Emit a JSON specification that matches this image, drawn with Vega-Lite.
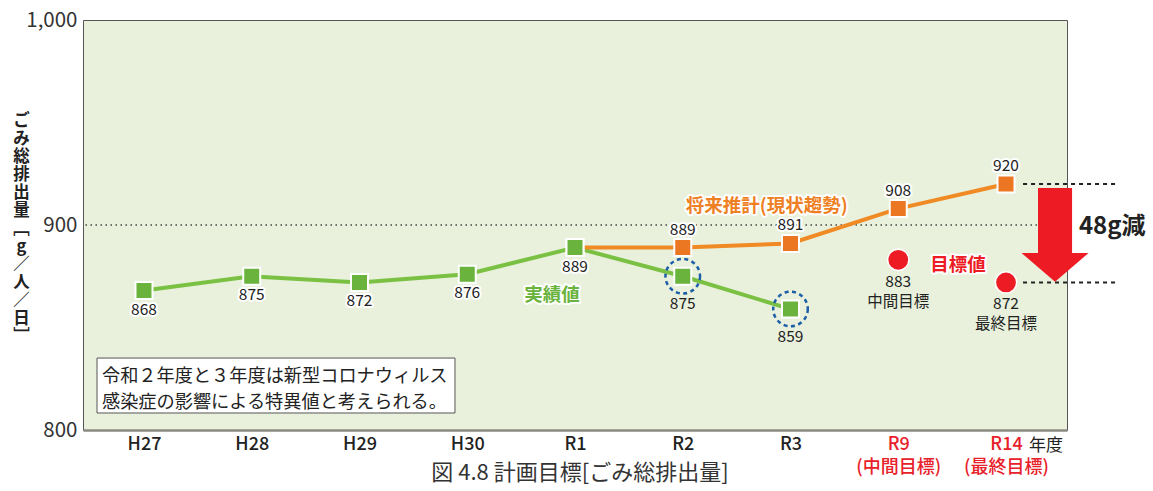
{
  "$schema": "https://vega.github.io/schema/vega-lite/v6.json",
  "width": 984,
  "height": 410,
  "autosize": {"type": "none"},
  "padding": {"left": 83, "top": 20, "right": 86, "bottom": 61},
  "background": "white",
  "config": {
    "view": {"fill": "#e9f1dc", "stroke": "#555555", "strokeWidth": 1},
    "font": "Noto Sans CJK JP",
    "text": {"font": "Noto Sans CJK JP"}
  },
  "datasets": {
    "actual": [
      {"i": 0, "year": "H27", "v": 868},
      {"i": 1, "year": "H28", "v": 875},
      {"i": 2, "year": "H29", "v": 872},
      {"i": 3, "year": "H30", "v": 876},
      {"i": 4, "year": "R1", "v": 889},
      {"i": 5, "year": "R2", "v": 875},
      {"i": 6, "year": "R3", "v": 859}
    ],
    "forecast": [
      {"i": 4, "year": "R1", "v": 889},
      {"i": 5, "year": "R2", "v": 889},
      {"i": 6, "year": "R3", "v": 891},
      {"i": 7, "year": "R9", "v": 908},
      {"i": 8, "year": "R14", "v": 920}
    ],
    "target": [
      {"i": 7, "year": "R9", "v": 883, "name": "中間目標"},
      {"i": 8, "year": "R14", "v": 872, "name": "最終目標"}
    ],
    "dashes": [{"v": 920}, {"v": 872}]
  },
  "layer": [
    {
      "data": {"values": [{}]},
      "mark": {"type": "rule", "color": "#444444", "strokeDash": [1.5, 3.5], "strokeWidth": 1.3},
      "encoding": {"y": {"datum": 900, "type": "quantitative"}}
    },
    {
      "data": {"values": [{}]},
      "mark": {"type": "rect", "fill": "white", "stroke": "#555555", "strokeWidth": 1},
      "encoding": {
        "x": {"datum": -0.436, "type": "quantitative"},
        "x2": {"datum": 2.886},
        "y": {"datum": 835.1, "type": "quantitative"},
        "y2": {"datum": 808.3}
      }
    },
    {
      "data": {"values": [{}]},
      "mark": {"type": "text", "text": ["令和２年度と３年度は新型コロナウィルス", "感染症の影響による特異値と考えられる。"], "align": "left", "baseline": "middle", "fontSize": 18.2, "lineHeight": 26, "color": "#222222"},
      "encoding": {
        "x": {"datum": -0.39, "type": "quantitative"},
        "y": {"datum": 825.9, "type": "quantitative"}
      }
    },
    {
      "data": {"name": "dashes"},
      "mark": {"type": "rule", "color": "#222222", "strokeDash": [4, 4], "strokeWidth": 2},
      "encoding": {
        "x": {"datum": 8.158, "type": "quantitative"},
        "x2": {"datum": 9.04},
        "y": {"field": "v", "type": "quantitative"}
      }
    },
    {
      "data": {"name": "actual"},
      "mark": {"type": "line", "color": "#7ac143", "strokeWidth": 4},
      "encoding": {
        "x": {
          "field": "i", "type": "quantitative",
          "scale": {"domain": [-0.566, 8.566], "nice": false, "zero": false},
          "axis": {
            "title": null,
            "values": [0, 1, 2, 3, 4, 5, 6, 7, 8],
            "labelExpr": "['H27','H28','H29','H30','R1','R2','R3',['R9','(中間目標)'],['R14','(最終目標)']][datum.value]",
            "labelColor": {"condition": {"test": "datum.value >= 7", "value": "#e8202a"}, "value": "#222222"},
            "labelFontSize": 18,
            "labelFont": "Noto Sans CJK JP",
            "labelFontWeight": 500,
            "labelLineHeight": 23,
            "labelPadding": 5,
            "labelBaseline": "top",
            "ticks": false,
            "grid": false,
            "domainColor": "#8a8a80",
            "domainWidth": 2.5,
            "labelOverlap": false
          }
        },
        "y": {
          "field": "v", "type": "quantitative",
          "scale": {"domain": [800, 1000], "nice": false, "zero": false},
          "axis": {
            "values": [800, 900, 1000],
            "format": ",d",
            "labelFontSize": 20.5,
            "labelColor": "#333333",
            "labelFont": "Noto Sans CJK JP",
            "labelPadding": 6,
            "ticks": false,
            "grid": false,
            "domain": false,
            "title": ["ご", "み", "総", "排", "出", "量", "﹇", "g", "／", "人", "／", "日", "﹈"],
            "titleAngle": 0,
            "titleAlign": "center",
            "titleBaseline": "top",
            "titleX": -62,
            "titleY": 92,
            "titleFontSize": 16.5,
            "titleLineHeight": 18,
            "titleFontWeight": "bold",
            "titleColor": "#222222",
            "titleFont": "Noto Sans CJK JP"
          }
        }
      }
    },
    {
      "data": {"name": "forecast"},
      "mark": {"type": "line", "color": "#f08a24", "strokeWidth": 4},
      "encoding": {
        "x": {"field": "i", "type": "quantitative"},
        "y": {"field": "v", "type": "quantitative"}
      }
    },
    {
      "data": {"name": "forecast"},
      "mark": {"type": "point", "shape": "square", "filled": true, "size": 289, "color": "#eb7722", "stroke": "white", "strokeWidth": 2, "opacity": 1},
      "encoding": {
        "x": {"field": "i", "type": "quantitative"},
        "y": {"field": "v", "type": "quantitative"}
      }
    },
    {
      "data": {"name": "actual"},
      "mark": {"type": "point", "shape": "square", "filled": true, "size": 289, "color": "#6ab33c", "stroke": "white", "strokeWidth": 2, "opacity": 1},
      "encoding": {
        "x": {"field": "i", "type": "quantitative"},
        "y": {"field": "v", "type": "quantitative"}
      }
    },
    {
      "data": {"name": "actual"},
      "transform": [{"filter": "datum.i >= 5"}],
      "mark": {"type": "point", "shape": "circle", "filled": false, "size": 1195, "color": "#1c5fa8", "strokeWidth": 2.5, "strokeDash": [4, 3.5], "opacity": 1},
      "encoding": {
        "x": {"field": "i", "type": "quantitative"},
        "y": {"field": "v", "type": "quantitative"}
      }
    },
    {
      "data": {"name": "target"},
      "mark": {"type": "point", "shape": "circle", "filled": true, "size": 452, "color": "#ed1c24", "stroke": "white", "strokeWidth": 1.5, "opacity": 1},
      "encoding": {
        "x": {"field": "i", "type": "quantitative"},
        "y": {"field": "v", "type": "quantitative"}
      }
    },
    {
      "data": {"name": "actual"},
      "transform": [{"filter": "datum.i <= 4"}],
      "mark": {"type": "text", "dy": 19, "fontSize": 15.5, "stroke": "white", "strokeWidth": 4, "strokeJoin": "round", "fill": "white"},
      "encoding": {
        "x": {"field": "i", "type": "quantitative"},
        "y": {"field": "v", "type": "quantitative"},
        "text": {"field": "v", "type": "quantitative"}
      }
    },
    {
      "data": {"name": "actual"},
      "transform": [{"filter": "datum.i <= 4"}],
      "mark": {"type": "text", "dy": 19, "fontSize": 15.5, "color": "#222222"},
      "encoding": {
        "x": {"field": "i", "type": "quantitative"},
        "y": {"field": "v", "type": "quantitative"},
        "text": {"field": "v", "type": "quantitative"}
      }
    },
    {
      "data": {"name": "actual"},
      "transform": [{"filter": "datum.i >= 5"}],
      "mark": {"type": "text", "dy": 28, "fontSize": 15.5, "color": "#222222"},
      "encoding": {
        "x": {"field": "i", "type": "quantitative"},
        "y": {"field": "v", "type": "quantitative"},
        "text": {"field": "v", "type": "quantitative"}
      }
    },
    {
      "data": {"name": "forecast"},
      "transform": [{"filter": "datum.i >= 5"}],
      "mark": {"type": "text", "dy": -18, "fontSize": 15.5, "stroke": "white", "strokeWidth": 4, "strokeJoin": "round", "fill": "white"},
      "encoding": {
        "x": {"field": "i", "type": "quantitative"},
        "y": {"field": "v", "type": "quantitative"},
        "text": {"field": "v", "type": "quantitative"}
      }
    },
    {
      "data": {"name": "forecast"},
      "transform": [{"filter": "datum.i >= 5"}],
      "mark": {"type": "text", "dy": -18, "fontSize": 15.5, "color": "#222222"},
      "encoding": {
        "x": {"field": "i", "type": "quantitative"},
        "y": {"field": "v", "type": "quantitative"},
        "text": {"field": "v", "type": "quantitative"}
      }
    },
    {
      "data": {"name": "target"},
      "mark": {"type": "text", "dy": 22, "fontSize": 15.5, "color": "#222222"},
      "encoding": {
        "x": {"field": "i", "type": "quantitative"},
        "y": {"field": "v", "type": "quantitative"},
        "text": {"field": "v", "type": "quantitative"}
      }
    },
    {
      "data": {"name": "target"},
      "mark": {"type": "text", "dy": 42, "fontSize": 15.5, "color": "#222222"},
      "encoding": {
        "x": {"field": "i", "type": "quantitative"},
        "y": {"field": "v", "type": "quantitative"},
        "text": {"field": "name", "type": "nominal"}
      }
    },
    {
      "data": {"values": [{"t": "将来推計(現状趨勢)", "x": 5.78, "y": 909.3, "c": "#ee7f22"}, {"t": "実績値", "x": 3.787, "y": 865.9, "c": "#6ab33c"}, {"t": "目標値", "x": 7.554, "y": 880.5, "c": "#ed1c24"}]},
      "mark": {"type": "text", "fontSize": 18.5, "fontWeight": "bold", "stroke": "white", "strokeWidth": 4, "strokeJoin": "round", "fill": "white", "baseline": "middle"},
      "encoding": {
        "x": {"field": "x", "type": "quantitative"},
        "y": {"field": "y", "type": "quantitative"},
        "text": {"field": "t", "type": "nominal"}
      }
    },
    {
      "data": {"values": [{"t": "将来推計(現状趨勢)", "x": 5.78, "y": 909.3, "c": "#ee7f22"}, {"t": "実績値", "x": 3.787, "y": 865.9, "c": "#6ab33c"}, {"t": "目標値", "x": 7.554, "y": 880.5, "c": "#ed1c24"}]},
      "mark": {"type": "text", "fontSize": 18.5, "fontWeight": "bold", "baseline": "middle"},
      "encoding": {
        "x": {"field": "x", "type": "quantitative"},
        "y": {"field": "y", "type": "quantitative"},
        "text": {"field": "t", "type": "nominal"},
        "color": {"field": "c", "type": "nominal", "scale": null}
      }
    },
    {
      "data": {"values": [{}]},
      "mark": {"type": "rect", "color": "#ed1c24", "opacity": 1},
      "encoding": {
        "x": {"datum": 8.297, "type": "quantitative"},
        "x2": {"datum": 8.613},
        "y": {"datum": 918, "type": "quantitative"},
        "y2": {"datum": 884}
      }
    },
    {
      "data": {"values": [{}]},
      "mark": {"type": "point", "shape": "M-1,-0.43L1,-0.43L0,0.43Z", "filled": true, "size": 4489, "color": "#ed1c24", "opacity": 1, "strokeWidth": 0},
      "encoding": {
        "x": {"datum": 8.455, "type": "quantitative"},
        "y": {"datum": 879.3, "type": "quantitative"}
      }
    },
    {
      "data": {"values": [{}]},
      "mark": {"type": "text", "text": "48g減", "fontSize": 24, "fontWeight": "bold", "color": "#222222", "align": "left", "baseline": "middle"},
      "encoding": {
        "x": {"datum": 8.677, "type": "quantitative"},
        "y": {"datum": 899, "type": "quantitative"}
      }
    },
    {
      "data": {"values": [{}]},
      "mark": {"type": "text", "text": "年度", "fontSize": 17, "color": "#222222", "align": "left", "baseline": "middle"},
      "encoding": {
        "x": {"datum": 8.213, "type": "quantitative"},
        "y": {"datum": 792.2, "type": "quantitative"}
      }
    },
    {
      "data": {"values": [{}]},
      "mark": {"type": "text", "text": "図 4.8 計画目標[ごみ総排出量]", "fontSize": 22, "color": "#333333", "align": "center", "baseline": "middle"},
      "encoding": {
        "x": {"datum": 4.046, "type": "quantitative"},
        "y": {"datum": 779, "type": "quantitative"}
      }
    }
  ]
}
